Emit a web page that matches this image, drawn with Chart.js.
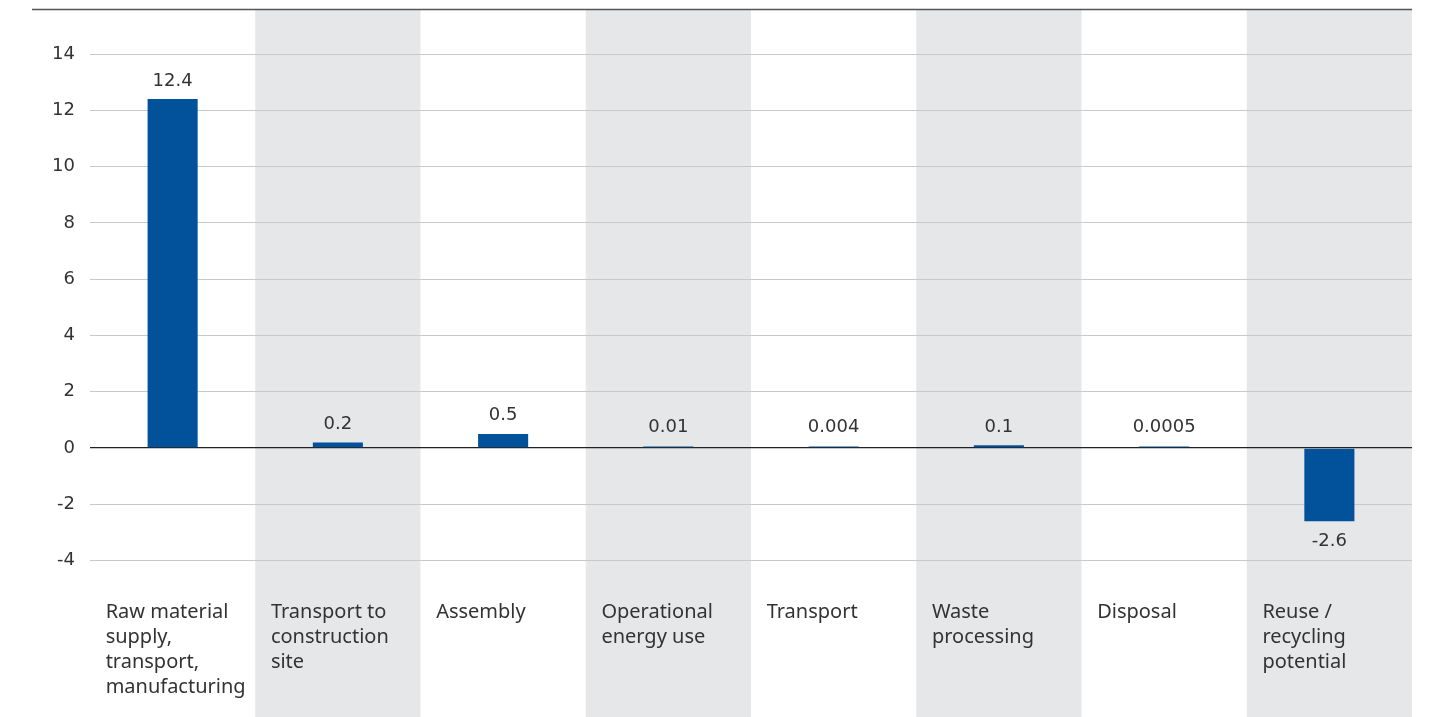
<!DOCTYPE html>
<html>
<head>
<meta charset="utf-8">
<script src="https://cdn.jsdelivr.net/npm/chart.js@4"></script>
<style>
html,body{margin:0;padding:0;background:#fff;}
#wrap{width:1430px;height:717px;position:relative;}
</style>
</head>
<body>
<div id="wrap"><canvas id="c" width="1430" height="717"></canvas></div>
<script>
const categories = [
  ["Raw material", "supply,", "transport,", "manufacturing"],
  ["Transport to", "construction", "site"],
  ["Assembly"],
  ["Operational", "energy use"],
  ["Transport"],
  ["Waste", "processing"],
  ["Disposal"],
  ["Reuse /", "recycling", "potential"]
];
const values = [12.4, 0.2, 0.5, 0.01, 0.004, 0.1, 0.0005, -2.6];
const valueLabels = ["12.4", "0.2", "0.5", "0.01", "0.004", "0.1", "0.0005", "-2.6"];
const yMin = -4, yMax = 14, yStep = 2;

const bandsPlugin = {
  id: 'bands',
  beforeDraw(chart) {
    const ctx = chart.ctx, xs = chart.scales.x;
    const w = xs.width / categories.length;
    ctx.save();
    ctx.fillStyle = '#e6e7e9';
    for (let i = 1; i < categories.length; i += 2) {
      const cx = xs.getPixelForValue(i);
      ctx.fillRect(cx - w / 2, 9, w, chart.height - 9);
    }
    ctx.restore();
  },
  afterDraw(chart) {
    const ctx = chart.ctx;
    ctx.save();
    ctx.strokeStyle = '#555';
    ctx.lineWidth = 1.3;
    ctx.beginPath();
    ctx.moveTo(32, 9.5);
    ctx.lineTo(chart.chartArea.right, 9.5);
    ctx.stroke();
    ctx.restore();
  }
};

const valueLabelPlugin = {
  id: 'valueLabels',
  afterDatasetsDraw(chart) {
    const ctx = chart.ctx;
    const meta = chart.getDatasetMeta(0);
    ctx.save();
    ctx.font = '18px "DejaVu Sans"';
    ctx.fillStyle = '#333';
    ctx.textAlign = 'center';
    ctx.textBaseline = 'alphabetic';
    meta.data.forEach((el, i) => {
      const v = values[i];
      if (v >= 0) {
        ctx.fillText(valueLabels[i], el.x, Math.min(el.y, el.base - 1.5) - 13.5);
      } else {
        ctx.fillText(valueLabels[i], el.x, el.y + 24.5);
      }
    });
    ctx.restore();
  }
};

new Chart(document.getElementById('c'), {
  type: 'bar',
  data: {
    labels: categories,
    datasets: [{
      data: values,
      backgroundColor: '#02529b',
      barPercentage: 0.303,
      categoryPercentage: 1,
      minBarLength: 1.5
    }]
  },
  options: {
    responsive: false,
    animation: false,
    devicePixelRatio: 1,
    layout: { padding: { top: 54, right: 18, left: 0, bottom: 0 } },
    plugins: { legend: { display: false }, tooltip: { enabled: false } },
    scales: {
      x: {
        grid: { display: false, drawTicks: false },
        border: { display: false },
        ticks: {
          autoSkip: false,
          maxRotation: 0,
          minRotation: 0,
          align: 'start',
          labelOffset: -67,
          padding: 39,
          color: '#333',
          font: { family: '"Noto Sans"', size: 20, lineHeight: 1.25 }
        },
        afterFit(scale) {
          scale.height = 156.4;
          scale.paddingLeft = 0;
          scale.paddingRight = 0;
        }
      },
      y: {
        min: yMin,
        max: yMax,
        grid: {
          drawTicks: false,
          color: (c) => (c.tick && c.tick.value === 0) ? '#222' : '#c9c9c9',
          lineWidth: (c) => (c.tick && c.tick.value === 0) ? 1.3 : 1
        },
        border: { display: false },
        ticks: {
          stepSize: yStep,
          padding: 15,
          color: '#333',
          font: { family: '"DejaVu Sans"', size: 18 }
        },
        afterFit(scale) {
          scale.width = 90;
          scale.paddingTop = 0;
          scale.paddingBottom = 0;
        }
      }
    }
  },
  plugins: [bandsPlugin, valueLabelPlugin]
});
</script>
</body>
</html>
